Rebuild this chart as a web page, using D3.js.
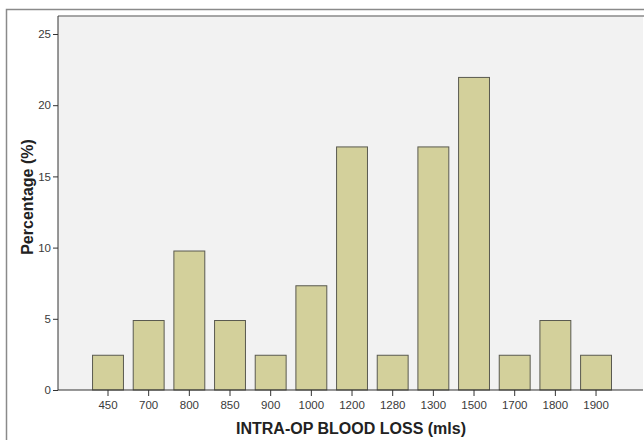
<!DOCTYPE html>
<html>
<head>
<meta charset="utf-8">
<script src="https://cdn.jsdelivr.net/npm/d3@7"></script>
<style>
  body { margin: 0; background: #fff; }
  svg { display: block; font-family: Arial, "Liberation Sans", sans-serif; }
</style>
</head>
<body>
<div id="chart"></div>
<script>
// Data (n = 41)
const categories = ['450', '700', '800', '850', '900', '1000', '1200', '1280', '1300', '1500', '1700', '1800', '1900'];
const percentages = [2.44, 4.88, 9.76, 4.88, 2.44, 7.32, 17.07, 2.44, 17.07, 21.95, 2.44, 4.88, 2.44];
const yTicks = [0, 5, 10, 15, 20, 25];

const width = 644, height = 440;
const plot = { left: 58, top: 16, right: 643, bottom: 390 };

const svg = d3.select('#chart').append('svg')
    .attr('width', width)
    .attr('height', height);

// outer frame
svg.append('rect')
    .attr('x', 6.5).attr('y', 9.5)
    .attr('width', 660).attr('height', 460)
    .attr('fill', 'none')
    .attr('stroke', '#8a8a8a')
    .attr('stroke-width', 1.5);

// plot background
svg.append('rect')
    .attr('x', plot.left).attr('y', plot.top)
    .attr('width', plot.right - plot.left).attr('height', plot.bottom - plot.top)
    .attr('fill', '#f2f2f2');

svg.append('line')
    .attr('x1', plot.left).attr('x2', plot.right + 5)
    .attr('y1', plot.top).attr('y2', plot.top)
    .attr('stroke', '#8a8a8a').attr('stroke-width', 1.5);

const step = 40.67;
const x = d3.scaleBand()
    .domain(categories)
    .range([108 - step / 2, 108 + step * 12 + step / 2])
    .paddingInner(0.24)
    .paddingOuter(0.12);

const y = d3.scaleLinear()
    .domain([0, 25])
    .range([plot.bottom, 34]);

// bars
svg.append('g')
    .selectAll('rect')
    .data(categories)
    .enter().append('rect')
    .attr('x', d => x(d))
    .attr('y', (d, i) => y(percentages[i]))
    .attr('width', x.bandwidth())
    .attr('height', (d, i) => y(0) - y(percentages[i]))
    .attr('fill', '#d3d09b')
    .attr('stroke', '#5a5a50')
    .attr('stroke-width', 1);

// y axis
const yAxis = svg.append('g')
    .attr('transform', `translate(${plot.left},0)`)
    .call(d3.axisLeft(y).tickValues(yTicks).tickSize(5).tickPadding(2));
yAxis.select('.domain').attr('d', `M0,${plot.top}V${plot.bottom}`).attr('stroke', '#333');
yAxis.selectAll('.tick line').attr('stroke', '#333');
yAxis.selectAll('.tick text').attr('fill', '#3a3a3a').attr('font-size', 11.5);

// x axis
const xAxis = svg.append('g')
    .attr('transform', `translate(0,${plot.bottom})`)
    .call(d3.axisBottom(x).tickSize(6).tickPadding(5));
xAxis.select('.domain').attr('d', `M${plot.left},0H${plot.right}`).attr('stroke', '#333');
xAxis.selectAll('.tick line').attr('stroke', '#333');
xAxis.selectAll('.tick text').attr('fill', '#3a3a3a').attr('font-size', 11.5);

// axis titles
svg.append('text')
    .attr('x', 351).attr('y', 434)
    .attr('text-anchor', 'middle')
    .attr('font-size', 16).attr('font-weight', 'bold')
    .attr('fill', '#222')
    .text('INTRA-OP BLOOD LOSS (mls)');

svg.append('text')
    .attr('transform', 'translate(33,197) rotate(-90)')
    .attr('text-anchor', 'middle')
    .attr('font-size', 16).attr('font-weight', 'bold')
    .attr('fill', '#222')
    .text('Percentage (%)');
</script>
</body>
</html>
